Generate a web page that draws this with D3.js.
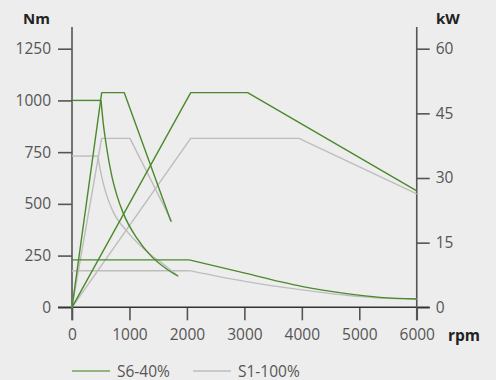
<!DOCTYPE html>
<html><head><meta charset="utf-8">
<script src="https://cdn.jsdelivr.net/npm/d3@7/dist/d3.min.js"></script>
<style>
body{margin:0;background:#ededed;}
svg{display:block;}
text{font-family:"Open Sans",sans-serif;}
</style>
</head><body>
<svg id="chart" width="496" height="380"></svg>
<script>
// ---- data ----
const rpmTicks = [0, 1000, 2000, 3000, 4000, 5000, 6000];
const nmTicks = [0, 250, 500, 750, 1000, 1250];
const kwTicks = [0, 15, 30, 45, 60];
const seriesNames = ["S6-40%", "S1-100%"];
const seriesColors = ["#4b8a2c", "#bdbdbd"];

// Motor A (low speed) torque [rpm, Nm]
const torqueA_S6_flat = [[0, 1000], [505, 1000]];
const torqueA_S6_fall = [[505, 1000], [540, 900], [604, 770], [696, 630], [788, 535], [893, 454], [1126, 335], [1387, 245], [1648, 185], [1850, 150]];
const torqueA_S1_flat = [[0, 731], [449, 731]];
const torqueA_S1_fall = [[449, 731], [490, 668], [545, 598], [632, 518], [720, 460], [980, 360], [1300, 270], [1648, 196], [1835, 153]];
// Motor A power [rpm, kW]
const powerA_S6 = [[0, 0], [517, 49.8], [910, 49.8], [1723, 19.9]];
const powerA_S1 = [[0, 0], [515, 39.2], [1009, 39.2], [1740, 19.8]];

// Motor B (high speed) torque [rpm, Nm]
const torqueB_S6_flat = [[0, 229], [2040, 229]];
const torqueB_S6_fall = [[2040, 229], [3030, 164], [3620, 124], [4015, 100], [4780, 66], [5360, 48], [6000, 40]];
const torqueB_S1_flat = [[0, 177], [2050, 177]];
const torqueB_S1_fall = [[2050, 177], [3030, 124], [3620, 99], [4200, 77], [4780, 58], [5360, 45], [6000, 40]];
// Motor B power [rpm, kW]
const powerB_S6 = [[0, 0], [2066, 49.8], [3057, 49.8], [6000, 27.0]];
const powerB_S1 = [[0, 0], [2066, 39.2], [3950, 39.2], [6000, 26.3]];

// ---- chart ----
const svg = d3.select("#chart");
const x = d3.scaleLinear().domain([0, 6000]).range([72, 416.75]);
const yNm = d3.scaleLinear().domain([0, 1250]).range([307.3, 48.7]);
const yKw = d3.scaleLinear().domain([0, 60]).range([307.3, 48.7]);

const axisColor = "#555";
const labelColor = "#555";

// axes
const gx = svg.append("g").attr("transform", `translate(0,${yNm(0)})`)
  .call(d3.axisBottom(x).tickValues(rpmTicks).tickSize(13).tickPadding(9).tickFormat(d3.format("d")));
const gl = svg.append("g").attr("transform", `translate(${x(0)},0)`)
  .call(d3.axisLeft(yNm).tickValues(nmTicks).tickSize(14).tickPadding(7).tickFormat(d3.format("d")));
const gr = svg.append("g").attr("transform", `translate(${x(6000)},0)`)
  .call(d3.axisRight(yKw).tickValues(kwTicks).tickSize(13).tickPadding(6).tickFormat(d3.format("d")));
[gx, gl, gr].forEach(g => {
  g.select(".domain").remove();
  g.selectAll(".tick line").attr("stroke", axisColor).attr("stroke-width", 1.6);
  g.selectAll(".tick text").attr("fill", labelColor).style("font-size", "15.5px").style("font-family", '"Open Sans",sans-serif');
});

// axis lines
svg.append("line").attr("x1", x(0) - 14).attr("x2", x(6000) + 13).attr("y1", yNm(0)).attr("y2", yNm(0))
  .attr("stroke", "#333").attr("stroke-width", 1.6);
svg.append("line").attr("x1", x(0)).attr("x2", x(0)).attr("y1", 27).attr("y2", yNm(0) + 13)
  .attr("stroke", axisColor).attr("stroke-width", 1.6);
svg.append("line").attr("x1", x(6000)).attr("x2", x(6000)).attr("y1", 27).attr("y2", yNm(0) + 13)
  .attr("stroke", axisColor).attr("stroke-width", 1.6);

// axis titles
svg.append("text").attr("x", 50).attr("y", 24).attr("text-anchor", "end")
  .attr("font-weight", "bold").attr("fill", "#222").style("font-size", "15px").text("Nm");
svg.append("text").attr("x", 436).attr("y", 24)
  .attr("font-weight", "bold").attr("fill", "#222").style("font-size", "15px").text("kW");
svg.append("text").attr("x", 448).attr("y", 340.5)
  .attr("font-weight", "bold").attr("fill", "#222").style("font-size", "15.5px").text("rpm");

// lines
const lineNmLin = d3.line().x(d => x(d[0])).y(d => yNm(d[1]));
const lineNmCurve = d3.line().x(d => x(d[0])).y(d => yNm(d[1])).curve(d3.curveMonotoneX);
const lineKw = d3.line().x(d => x(d[0])).y(d => yKw(d[1]));

const plot = svg.append("g").attr("fill", "none").attr("stroke-width", 1.4).attr("stroke-linejoin", "round");

function drawSeries(i, flats, falls, powers) {
  flats.forEach(d => plot.append("path").attr("d", lineNmLin(d)).attr("stroke", seriesColors[i]));
  falls.forEach(d => plot.append("path").attr("d", lineNmCurve(d)).attr("stroke", seriesColors[i]));
  powers.forEach(d => plot.append("path").attr("d", lineKw(d)).attr("stroke", seriesColors[i]));
}
drawSeries(1, [torqueA_S1_flat, torqueB_S1_flat], [torqueA_S1_fall, torqueB_S1_fall], [powerA_S1, powerB_S1]);
drawSeries(0, [torqueA_S6_flat, torqueB_S6_flat], [torqueA_S6_fall, torqueB_S6_fall], [powerA_S6, powerB_S6]);

// legend
const legendX = [72, 193];
const lg = svg.append("g");
seriesNames.forEach((name, i) => {
  lg.append("line").attr("x1", legendX[i]).attr("x2", legendX[i] + 38).attr("y1", 371).attr("y2", 371)
    .attr("stroke", seriesColors[i]).attr("stroke-width", 1.6).attr("stroke-opacity", i === 0 ? 0.75 : 1);
  lg.append("text").attr("x", legendX[i] + 45).attr("y", 376.5).attr("fill", labelColor)
    .style("font-size", "15.5px").text(name);
});
</script>
</body></html>
